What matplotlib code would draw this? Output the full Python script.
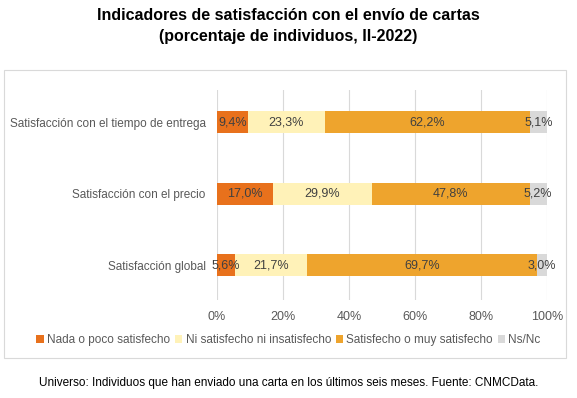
import matplotlib.pyplot as plt
import numpy as np
from matplotlib.patches import Rectangle

plt.rcParams['font.family'] = ['Liberation Sans', 'DejaVu Sans']

# Datos
categorias = ['Satisfacción con el tiempo de entrega', 'Satisfacción con el precio', 'Satisfacción global']
series = ['Nada o poco satisfecho', 'Ni satisfecho ni insatisfecho', 'Satisfecho o muy satisfecho', 'Ns/Nc']
nada = [9.4, 17.0, 5.6]
ni = [23.3, 29.9, 21.7]
satisfecho = [62.2, 47.8, 69.7]
nsnc = [5.1, 5.2, 3.0]
colores = ['#E8711C', '#FFF2B8', '#EEA42D', '#D9D9D9']

valores = [nada, ni, satisfecho, nsnc]

fig = plt.figure(figsize=(5.77, 3.98), dpi=100)
ax = fig.add_axes([0.376, 0.246, 0.572, 0.528])

# Marco del gráfico
fig.patches.append(Rectangle((4 / 577, 1 - 358 / 398), 562 / 577, 288 / 398,
                             transform=fig.transFigure, fill=False,
                             edgecolor='#D9D9D9', linewidth=0.8))

y = np.arange(len(categorias))
izq = np.zeros(len(categorias))
for nombre, vals, c in zip(series, valores, colores):
    vals = np.array(vals)
    ax.barh(y, vals, left=izq, height=0.31, color=c, label=nombre, zorder=2)
    for yi, l, v in zip(y, izq, vals):
        ax.text(l + v / 2, yi, f'{v:.1f}%'.replace('.', ','), ha='center', va='center',
                fontsize=9, color='#404040', zorder=3)
    izq += vals

ax.set_xlim(0, 100)
ax.set_ylim(2.49, -0.45)
ax.set_xticks(np.arange(0, 101, 20))
ax.set_xticklabels([f'{t}%' for t in range(0, 101, 20)])
ax.set_yticks(y)
ax.set_yticklabels(categorias)
ax.grid(axis='x', color='#D9D9D9', linewidth=0.8, zorder=0)
for s in ax.spines.values():
    s.set_visible(False)
ax.tick_params(axis='x', length=0, labelsize=9, colors='#595959', pad=8)
ax.tick_params(axis='y', length=0, labelsize=8.5, colors='#595959', pad=8)

fig.legend(loc='center', bbox_to_anchor=(0.5, 1 - 340 / 398), ncol=4, frameon=False,
           fontsize=8.5, handlelength=0.6, handleheight=0.6, handletextpad=0.3,
           columnspacing=0.4, labelcolor='#595959')

fig.text(0.5, 1 - 16 / 398, 'Indicadores de satisfacción con el envío de cartas',
         ha='center', va='center', fontsize=11.5, fontweight='bold')
fig.text(0.5, 1 - 37 / 398, '(porcentaje de individuos, II-2022)',
         ha='center', va='center', fontsize=11.5, fontweight='bold')
fig.text(0.5, 1 - 383 / 398,
         'Universo: Individuos que han enviado una carta en los últimos seis meses. Fuente: CNMCData.',
         ha='center', va='center', fontsize=8.5)

plt.savefig('out.png', dpi=100)
